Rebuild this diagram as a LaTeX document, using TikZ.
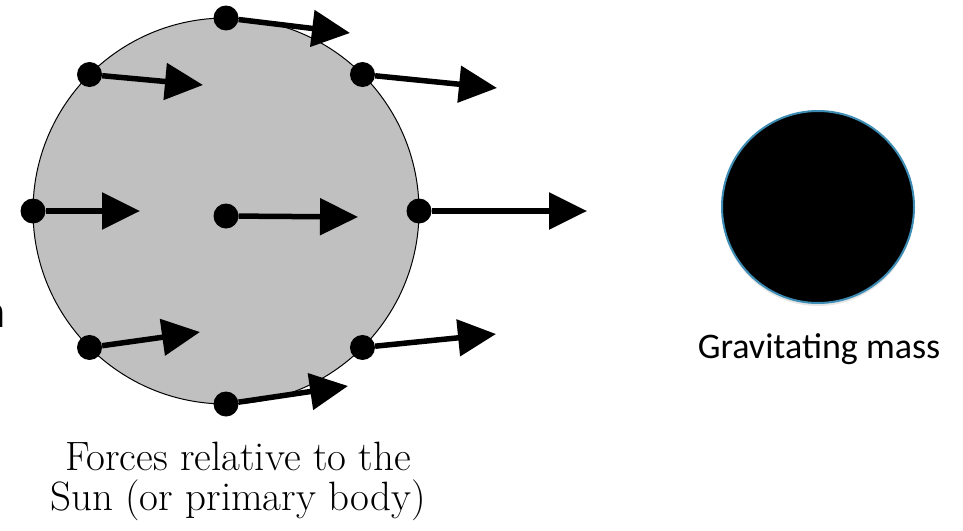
\documentclass[tikz,border=0pt]{standalone}
\usepackage{fontspec}
\newfontfamily\calibri{Carlito}
\usetikzlibrary{arrows.meta, shadows}
\definecolor{sungray}{RGB}{192,192,192}
\definecolor{rimblue}{RGB}{60,140,180}
\tikzset{
  dot/.style={circle, fill=black, inner sep=0pt, minimum size=25pt},
  force/.style={line width=5.5pt, -{Triangle[length=38pt, width=36pt]}},
}

\begin{document}
\begin{tikzpicture}[x=1pt, y=-1pt]
                \useasboundingbox (0,0) rectangle (963,530);
                \node[circle, draw, line width=1pt, fill=sungray, outer sep=0pt, minimum size=386pt] (sun) at (226,211) {};
                \node[dot] (v1) at (sun.90) {};
                \node[dot] (v2) at (sun.135) {};
                \node[dot] (v3) at (sun.45) {};
                \node[dot] (v4) at (sun.180) {};
                \node[dot] (v5) at (226,216) {};
                \node[dot] (v6) at (sun.0) {};
                \node[dot] (v7) at (sun.225) {};
                \node[dot] (v8) at (sun.315) {};
                \node[dot] (v9) at (sun.270) {};
                \coordinate (f1) at (350,33);
                \coordinate (f2) at (203,85);
                \coordinate (f3) at (497,88);
                \coordinate (f4) at (140,211);
                \coordinate (f5) at (358,217);
                \coordinate (f6) at (587,211);
                \coordinate (f7) at (200,332);
                \coordinate (f8) at (496,334);
                \coordinate (f9) at (348,386);
                \draw[force] (v1) -- (f1);
                \draw[force] (v2) -- (f2);
                \draw[force] (v3) -- (f3);
                \draw[force] (v4) -- (f4);
                \draw[force] (v5) -- (f5);
                \draw[force] (v6) -- (f6);
                \draw[force] (v7) -- (f7);
                \draw[force] (v8) -- (f8);
                \draw[force] (v9) -- (f9);
                \node[align=center, font=\fontsize{41}{40}\selectfont, anchor=base] (caption) at (238,510) {Forces relative to the\\Sun (or primary body)};
                \node[circle, fill=black, draw=rimblue, line width=2pt, minimum size=192pt,
                      drop shadow={opacity=0.2, shadow xshift=0pt, shadow yshift=-3pt}] (mass) at (818,207) {};
                \node[font=\calibri\fontsize{36}{40}\selectfont, anchor=base] (masslabel) at (819,358) {Gravitating mass};
                \node[font=\calibri\fontsize{48}{52}\selectfont, anchor=base east, inner sep=0pt] (cut) at (6,327) {n};
            \end{tikzpicture}
\end{document}
